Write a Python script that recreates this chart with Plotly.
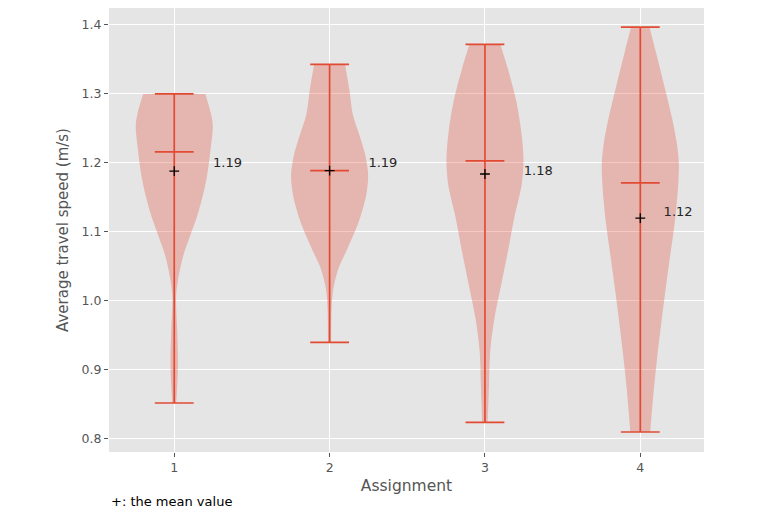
import plotly.graph_objects as go

# ---- data ----
positions = [1, 2, 3, 4]
mins = [0.852, 0.940, 0.824, 0.810]
maxs = [1.300, 1.343, 1.372, 1.397]
medians = [1.216, 1.189, 1.203, 1.171]
means = [1.188, 1.189, 1.184, 1.120]
mean_labels = ["1.19", "1.19", "1.18", "1.12"]
label_x = [1.25, 2.25, 3.25, 4.15]
label_y = [1.199, 1.199, 1.187, 1.128]

# density profiles: y values and half-widths (axis units)
prof1_y = [1.300, 1.272, 1.253, 1.224, 1.175, 1.127, 1.093, 1.064, 1.030, 1.006, 0.958, 0.910, 0.876, 0.852]
prof1_w = [0.200, 0.236, 0.248, 0.236, 0.206, 0.153, 0.100, 0.056, 0.024, 0.012, 0.019, 0.024, 0.019, 0.013]
prof2_y = [1.343, 1.308, 1.270, 1.241, 1.212, 1.183, 1.154, 1.115, 1.076, 1.047, 1.018, 0.989, 0.940]
prof2_w = [0.099, 0.126, 0.150, 0.191, 0.229, 0.248, 0.236, 0.188, 0.115, 0.057, 0.024, 0.013, 0.010]
prof3_y = [1.372, 1.337, 1.289, 1.241, 1.202, 1.168, 1.120, 1.071, 1.023, 0.975, 0.927, 0.878, 0.824]
prof3_w = [0.099, 0.147, 0.202, 0.236, 0.248, 0.236, 0.188, 0.147, 0.104, 0.061, 0.034, 0.026, 0.018]
prof4_y = [1.397, 1.362, 1.313, 1.265, 1.227, 1.198, 1.159, 1.111, 1.062, 1.014, 0.966, 0.917, 0.869, 0.810]
prof4_w = [0.059, 0.099, 0.153, 0.204, 0.236, 0.248, 0.241, 0.220, 0.190, 0.161, 0.134, 0.108, 0.086, 0.064]

profiles = [(prof1_y, prof1_w), (prof2_y, prof2_w), (prof3_y, prof3_w), (prof4_y, prof4_w)]

C0 = "#E24A33"
BG = "#E5E5E5"
CAP = 0.125

fig = go.Figure()

for pos, (py, pw) in zip(positions, profiles):
    left_x = [pos - w for w in pw]
    right_x = [pos + w for w in reversed(pw)]
    left_y = list(py)
    right_y = list(reversed(py))
    # repeat the end points so the spline keeps the flat cut at min and max
    xs = [left_x[0]] + left_x + [left_x[-1], right_x[0]] + right_x + [right_x[-1]]
    ys = [left_y[0]] + left_y + [left_y[-1], right_y[0]] + right_y + [right_y[-1]]
    fig.add_trace(go.Scatter(x=xs, y=ys, fill="toself", mode="lines",
                             line=dict(width=0, shape="spline", smoothing=0.9),
                             fillcolor="rgba(226,74,51,0.3)",
                             hoverinfo="skip", showlegend=False))

lx, ly = [], []
for pos, lo, hi, med in zip(positions, mins, maxs, medians):
    lx += [pos, pos, None]
    ly += [lo, hi, None]
    for v in (lo, hi, med):
        lx += [pos - CAP, pos + CAP, None]
        ly += [v, v, None]
fig.add_trace(go.Scatter(x=lx, y=ly, mode="lines", line=dict(color=C0, width=1.7),
                         hoverinfo="skip", showlegend=False))

fig.add_trace(go.Scatter(x=positions, y=means, mode="markers",
                         marker=dict(symbol="cross-thin", size=7,
                                     line=dict(color="black", width=1.3)),
                         showlegend=False))

fig.add_trace(go.Scatter(x=label_x, y=label_y, mode="text", text=mean_labels,
                         textposition="middle right",
                         textfont=dict(family="DejaVu Sans", size=13, color="#262626"),
                         showlegend=False))

fig.update_layout(
    width=766, height=510,
    margin=dict(l=109, r=62, t=8, b=58),
    paper_bgcolor="white", plot_bgcolor=BG,
    font=dict(family="DejaVu Sans", color="#555555"),
    showlegend=False,
)
fig.update_xaxes(range=[0.58, 4.41], tickvals=positions, ticktext=[str(p) for p in positions],
                 showgrid=True, gridcolor="white", gridwidth=1, zeroline=False,
                 ticks="outside", ticklen=4, tickcolor="#555555", showline=False,
                 tickfont=dict(size=12.5, color="#555555"),
                 title=dict(text="Assignment", font=dict(size=15.5, color="#555555"), standoff=6))
fig.update_yaxes(range=[0.781, 1.4246], tickvals=[0.8, 0.9, 1.0, 1.1, 1.2, 1.3, 1.4],
                 ticktext=["0.8", "0.9", "1.0", "1.1", "1.2", "1.3", "1.4"],
                 showgrid=True, gridcolor="white", gridwidth=1, zeroline=False,
                 ticks="outside", ticklen=4, tickcolor="#555555", showline=False,
                 tickfont=dict(size=12.5, color="#555555"),
                 title=dict(text="Average travel speed (m/s)", font=dict(size=15, color="#555555"),
                            standoff=9))

fig.add_annotation(text="+: the mean value", xref="paper", yref="paper",
                   x=0, y=-0.1126, xanchor="left", yanchor="middle", showarrow=False,
                   font=dict(family="DejaVu Sans", size=13, color="black"))

fig.write_html("out.html")
